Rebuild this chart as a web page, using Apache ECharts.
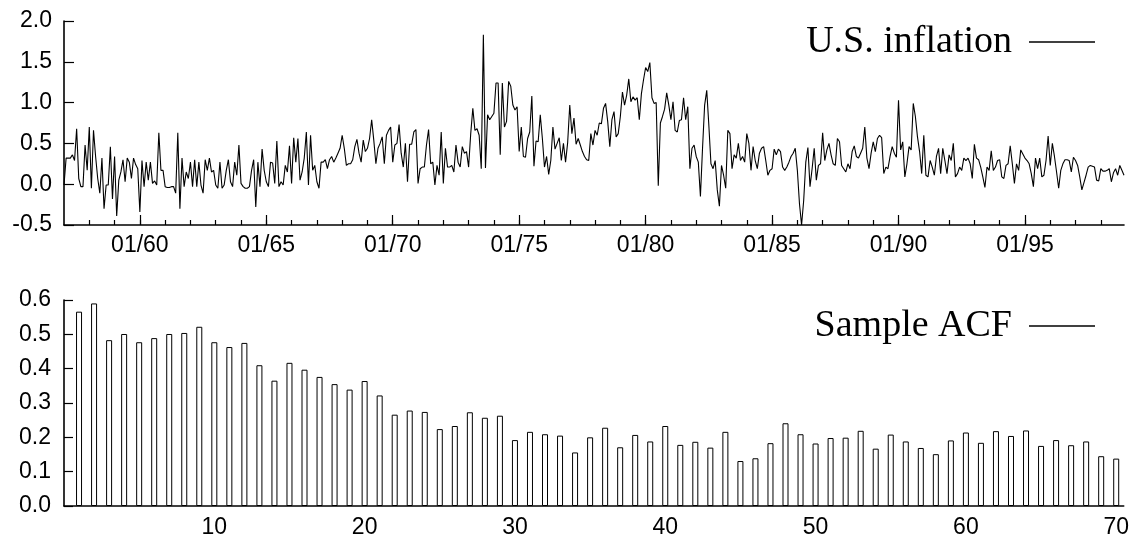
<!DOCTYPE html>
<html>
<head>
<meta charset="utf-8">
<script src="https://cdn.jsdelivr.net/npm/echarts@6/dist/echarts.min.js"></script>
<style>
  html, body { margin: 0; padding: 0; background: #fff; }
  #main { width: 1132px; height: 539px; }
</style>
</head>
<body>
<div id="main"></div>
<script>
// monthly U.S. inflation, one row per year, starting 01/1957
const infl1950s = [
  -0.01, 0.32, 0.32, 0.32, 0.36, 0.29, 0.68, 0.07, -0.03, -0.03, 0.48, 0.17,
  0.70, -0.05, 0.66, 0.34, 0.07, -0.11, 0.32, -0.30, -0.01, -0.01, 0.46, -0.18,
  0.34, -0.39, 0.05, 0.15, 0.30, 0.03, 0.32, 0.27, 0.07, 0.32, 0.24, 0.19
]
const infl1960s = [
  -0.34, 0.29, -0.03, 0.27, 0.05, 0.27, 0.01, 0.04, -0.01, 0.63, 0.17, 0.17,
  -0.03, -0.04, -0.04, -0.03, -0.03, -0.11, 0.63, -0.30, 0.32, -0.03, 0.15, 0.07,
  0.27, -0.03, 0.30, -0.03, 0.27, -0.01, -0.11, 0.30, 0.17, 0.32, 0.15, 0.17,
  -0.01, -0.05, 0.27, -0.05, -0.01, 0.17, 0.30, 0.03, -0.03, 0.27, 0.11, 0.48,
  0.01, -0.03, -0.05, -0.05, -0.03, 0.17, 0.30, -0.28, 0.27, -0.03, 0.43, 0.17,
  0.03, -0.03, 0.27, 0.26, 0.01, 0.53, -0.03, 0.03, -0.01, 0.23, 0.15, 0.47,
  0.01, 0.57, 0.27, 0.56, 0.05, 0.15, 0.32, 0.64, -0.01, 0.60, 0.17, 0.23,
  0.03, -0.05, 0.27, 0.27, 0.30, 0.19, 0.30, 0.34, 0.27, 0.32, 0.38, 0.44,
  0.60, 0.44, 0.23, 0.25, 0.25, 0.30, 0.46, 0.55, 0.38, 0.27, 0.54, 0.40,
  0.44, 0.56, 0.79, 0.54, 0.25, 0.44, 0.50, 0.58, 0.25, 0.60, 0.66, 0.70
]
const infl1970s = [
  0.27, 0.48, 0.50, 0.73, 0.38, 0.21, 0.50, 0.03, 0.49, 0.49, 0.64, 0.67,
  0.01, 0.19, 0.21, 0.21, 0.48, 0.67, 0.25, 0.27, -0.01, 0.23, 0.11, 0.64,
  0.01, 0.44, 0.21, 0.21, 0.23, 0.15, 0.48, 0.27, 0.21, 0.46, 0.38, 0.40,
  0.21, 0.62, 0.93, 0.66, 0.68, 0.60, 0.19, 1.83, 0.20, 0.85, 0.79, 0.83,
  0.87, 1.24, 1.24, 0.36, 1.24, 0.70, 0.77, 1.26, 1.20, 0.97, 0.91, 0.95,
  0.40, 0.70, 0.34, 0.33, 0.56, 0.64, 1.08, 0.22, 0.53, 0.52, 0.85, 0.56,
  0.21, 0.34, 0.12, 0.29, 0.70, 0.43, 0.50, 0.57, 0.29, 0.50, 0.27, 0.51,
  0.97, 0.62, 0.81, 0.49, 0.56, 0.48, 0.40, 0.34, 0.30, 0.29, 0.62, 0.48,
  0.66, 0.60, 0.75, 0.74, 0.93, 0.99, 0.77, 0.46, 0.79, 0.89, 0.58, 0.62,
  0.83, 1.13, 0.97, 1.09, 1.29, 1.01, 1.07, 1.03, 1.06, 0.79, 1.11, 1.28
]
const infl1980s = [
  1.43, 1.38, 1.49, 1.06, 0.99, 1.00, -0.02, 0.75, 0.83, 0.92, 1.12, 0.97,
  0.79, 1.01, 0.66, 0.64, 0.78, 0.79, 1.06, 0.79, 0.95, 0.19, 0.44, 0.48,
  0.34, 0.27, -0.15, 0.44, 0.97, 1.15, 0.72, 0.25, 0.19, 0.29, -0.07, -0.27,
  0.23, 0.11, -0.05, 0.66, 0.62, 0.19, 0.36, 0.32, 0.50, 0.29, 0.34, 0.27,
  0.62, 0.50, 0.17, 0.46, 0.29, 0.19, 0.38, 0.44, 0.46, 0.29, 0.11, 0.17,
  0.19, 0.43, 0.36, 0.43, 0.40, 0.21, 0.17, 0.21, 0.27, 0.34, 0.38, 0.44,
  0.17, -0.24, -0.50, -0.20, 0.27, 0.45, -0.03, 0.19, 0.44, 0.05, 0.23, 0.25,
  0.63, 0.29, 0.42, 0.50, 0.36, 0.25, 0.23, 0.56, 0.52, 0.23, 0.19, 0.15,
  0.25, 0.19, 0.40, 0.47, 0.34, 0.32, 0.38, 0.44, 0.70, 0.32, 0.19, 0.38,
  0.52, 0.40, 0.56, 0.60, 0.57, 0.13, 0.21, 0.19, 0.34, 0.46, 0.38, 0.33
]
const infl1990s = [
  1.03, 0.42, 0.52, 0.09, 0.25, 0.46, 0.42, 0.99, 0.83, 0.58, 0.40, 0.13,
  0.60, 0.11, 0.09, 0.29, 0.21, 0.11, 0.34, 0.44, 0.13, 0.44, 0.29, 0.13,
  0.36, 0.29, 0.50, 0.09, 0.13, 0.21, 0.17, 0.32, 0.29, 0.32, 0.25, 0.07,
  0.49, 0.32, 0.30, 0.21, 0.09, -0.04, 0.21, 0.17, 0.41, 0.17, 0.21, 0.29,
  0.30, 0.09, 0.07, 0.23, 0.25, 0.47, 0.25, 0.01, 0.25, 0.17, 0.42, 0.37,
  0.32, 0.29, 0.25, 0.13, -0.03, 0.32, 0.19, 0.32, 0.09, 0.11, 0.29, 0.59,
  0.23, 0.50, 0.34, 0.15, -0.05, 0.17, 0.25, 0.30, 0.30, 0.29, 0.15, 0.33,
  0.29, 0.23, 0.09, -0.07, 0.02, 0.11, 0.21, 0.23, 0.22, 0.21, 0.05, 0.04,
  0.19, 0.16, 0.16, 0.17, 0.19, 0.03, 0.14, 0.19, 0.11, 0.23, 0.17, 0.11
]
const startYear = 1957

// sample autocorrelations, lags 1..70
const acf = [
  0.566, 0.590, 0.483, 0.501, 0.477, 0.489, 0.501, 0.504, 0.522, 0.477,
  0.463, 0.475, 0.410, 0.365, 0.417, 0.397, 0.376, 0.355, 0.339, 0.364,
  0.322, 0.266, 0.278, 0.274, 0.224, 0.233, 0.273, 0.257, 0.263, 0.192,
  0.216, 0.209, 0.205, 0.156, 0.200, 0.228, 0.171, 0.207, 0.188, 0.233,
  0.178, 0.187, 0.170, 0.216, 0.131, 0.139, 0.183, 0.241, 0.209, 0.182,
  0.198, 0.199, 0.219, 0.167, 0.208, 0.188, 0.169, 0.151, 0.191, 0.214,
  0.184, 0.218, 0.204, 0.220, 0.175, 0.192, 0.177, 0.188, 0.145, 0.138
]

const majorYears = [1960, 1965, 1970, 1975, 1980, 1985, 1990, 1995]
const lagTicks = [10, 20, 30, 40, 50, 60, 70]

const inflation = infl1950s.concat(infl1960s, infl1970s, infl1980s, infl1990s)
const inflData = inflation.map((v, i) => [startYear + i / 12, v])
const endYear = startYear + (inflation.length - 1) / 12
const minorYears = []
for (let y = startYear + 1; y < endYear; y++) minorYears.push(y)
const acfData = acf.map((v, i) => [i + 1, v])

const labelFont = { fontFamily: 'Liberation Sans', fontSize: 23, color: '#000' }
const axisLine = { show: true, onZero: false, lineStyle: { color: '#000', width: 1.6 } }
const legendText = { fontFamily: 'Liberation Serif', fontSize: 38, color: '#000', padding: [0, 12, 0, 0] }

const chart = echarts.init(document.getElementById('main'))
chart.setOption({
  animation: false,
  backgroundColor: '#fff',
  grid: [
    { left: 64, right: 8, top: 21, height: 204 },
    { left: 64, right: 8, top: 300, height: 206 }
  ],
  legend: [
    {
      data: [{ name: 'U.S. inflation', icon: 'rect' }],
      right: 37,
      top: 23,
      padding: 0,
      itemWidth: 66,
      itemHeight: 1.3,
      align: 'right',
      selectedMode: false,
      itemStyle: { color: '#000', borderWidth: 0 },
      textStyle: legendText
    },
    {
      data: [{ name: 'Sample ACF', icon: 'rect' }],
      right: 37,
      top: 307,
      padding: 0,
      itemWidth: 66,
      itemHeight: 1.3,
      align: 'right',
      selectedMode: false,
      itemStyle: { color: '#000', borderWidth: 0 },
      textStyle: legendText
    }
  ],
  xAxis: [
    {
      gridIndex: 0, type: 'value', position: 'bottom', min: startYear, max: endYear,
      axisLine: axisLine,
      axisTick: { inside: true, length: 5, customValues: minorYears, lineStyle: { color: '#000', width: 1.2 } },
      axisLabel: { show: false },
      splitLine: { show: false }
    },
    {
      gridIndex: 0, type: 'value', position: 'bottom', min: startYear, max: endYear,
      axisLine: { show: false, onZero: false },
      axisTick: { inside: true, length: 10, customValues: majorYears, lineStyle: { color: '#000', width: 1.2 } },
      axisLabel: Object.assign({ customValues: majorYears, margin: 9, formatter: v => '01/' + String(v).slice(2) }, labelFont),
      splitLine: { show: false }
    },
    {
      gridIndex: 1, type: 'value', position: 'bottom', min: 0, max: 70.5,
      axisLine: axisLine,
      axisTick: { inside: true, length: 10, customValues: lagTicks, lineStyle: { color: '#000', width: 1.2 } },
      axisLabel: Object.assign({ customValues: lagTicks, margin: 10 }, labelFont),
      splitLine: { show: false }
    }
  ],
  yAxis: [
    {
      gridIndex: 0, type: 'value', min: -0.5, max: 2.0, interval: 0.5,
      axisLine: axisLine,
      axisTick: { inside: true, length: 10, lineStyle: { color: '#000', width: 1.2 } },
      axisLabel: Object.assign({ margin: 12, formatter: v => v.toFixed(1) }, labelFont),
      splitLine: { show: false }
    },
    {
      gridIndex: 1, type: 'value', min: 0, max: 0.6, interval: 0.1,
      axisLine: axisLine,
      axisTick: { inside: true, length: 9, lineStyle: { color: '#000', width: 1.2 } },
      axisLabel: Object.assign({ margin: 13, formatter: v => v.toFixed(1) }, labelFont),
      splitLine: { show: false }
    }
  ],
  series: [
    {
      name: 'U.S. inflation',
      type: 'line',
      xAxisIndex: 0,
      yAxisIndex: 0,
      data: inflData,
      symbol: 'none',
      color: '#000',
      lineStyle: { color: '#000', width: 1.1 }
    },
    {
      name: 'Sample ACF',
      type: 'bar',
      xAxisIndex: 2,
      yAxisIndex: 1,
      data: acfData,
      barWidth: 6,
      color: '#000',
      itemStyle: { color: '#fff', borderColor: '#000', borderWidth: 1 }
    }
  ]
})
</script>
</body>
</html>
